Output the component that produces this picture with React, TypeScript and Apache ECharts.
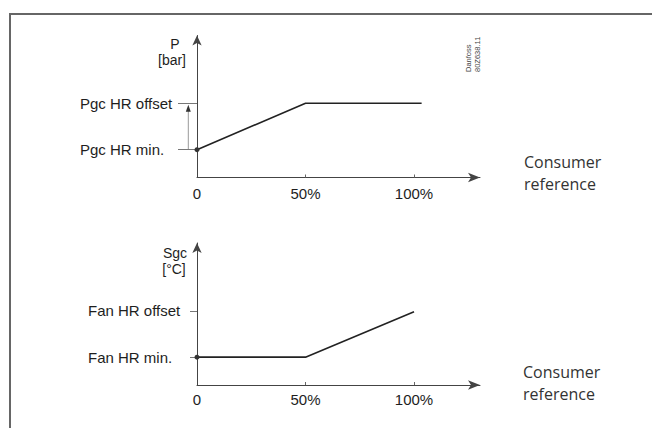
import React, { useEffect, useRef } from "react";
import * as echarts from "echarts";

// ---- data ----
const xTickValues = [0, 50, 100];
const xTickLabels = ["0", "50%", "100%"];
const levelValues = [1, 2];
const pressureLevelLabels = ["Pgc HR min.", "Pgc HR offset"];
const fanLevelLabels = ["Fan HR min.", "Fan HR offset"];
const pressureX = [0, 50, 103.5];
const pressureY = [1, 2, 2];
const fanX = [0, 50, 100];
const fanY = [1, 1, 1.98];

const X_MAX = 130.4;
const Y_MIN = 0.4;
const Y_MAX = 3.46;
const FONT = "Liberation Sans, Arial, Helvetica, sans-serif";

function makeXAxis(gridIndex: number, margin: number) {
  return {
    type: "value",
    gridIndex,
    min: 0,
    max: X_MAX,
    axisLine: {
      show: true,
      onZero: false,
      symbol: ["none", "arrow"],
      symbolSize: [7, 12],
      lineStyle: { color: "#444", width: 1 },
    },
    axisTick: {
      show: true,
      inside: true,
      length: 3,
      customValues: [50, 100],
      lineStyle: { color: "#666", width: 1 },
    },
    axisLabel: {
      customValues: xTickValues,
      formatter: (v: number) => {
        const i = xTickValues.indexOf(v);
        return i >= 0 ? xTickLabels[i] : "";
      },
      margin,
      fontSize: 15,
      color: "#1e1e1e",
      fontFamily: FONT,
    },
    splitLine: { show: false },
  };
}

function makeYAxis(gridIndex: number, labels: string[], tickLen: number, margin: number) {
  return {
    type: "value",
    gridIndex,
    min: Y_MIN,
    max: Y_MAX,
    axisLine: {
      show: true,
      onZero: false,
      symbol: ["none", "arrow"],
      symbolSize: [7, 10],
      lineStyle: { color: "#444", width: 1 },
    },
    axisTick: {
      show: true,
      length: tickLen,
      customValues: levelValues,
      lineStyle: { color: "#777", width: 1 },
    },
    axisLabel: {
      customValues: levelValues,
      formatter: (v: number) => {
        const i = levelValues.indexOf(v);
        return i >= 0 ? labels[i] : "";
      },
      align: "left",
      margin,
      fontSize: 15,
      color: "#1e1e1e",
      fontFamily: FONT,
    },
    splitLine: { show: false },
  };
}

function makeSeries(idx: number, xs: number[], ys: number[]) {
  return {
    type: "line",
    xAxisIndex: idx,
    yAxisIndex: idx,
    symbol: "none",
    clip: false,
    showSymbol: true,
    lineStyle: { color: "#222", width: 1.6 },
    itemStyle: { color: "#333" },
    data: xs.map((x, i) =>
      i === 0
        ? { value: [x, ys[i]], symbol: "circle", symbolSize: 5 }
        : { value: [x, ys[i]] }
    ),
  };
}

export default function App() {
  const ref = useRef<HTMLDivElement>(null);
  useEffect(() => {
    if (!ref.current) return;
    const chart = echarts.init(ref.current, undefined, { renderer: "svg" });
    const nameStyle = (text: string) => ({
      text,
      fontFamily: FONT,
      fontSize: 14,
      fill: "#1e1e1e",
      align: "center",
      verticalAlign: "middle",
    });
    chart.setOption({
      animation: false,
      backgroundColor: "#fff",
      grid: [
        { left: 197, top: 35.5, width: 283, height: 142 },
        { left: 197, top: 243, width: 283, height: 142 },
      ],
      xAxis: [makeXAxis(0, 8), makeXAxis(1, 7)],
      yAxis: [
        makeYAxis(0, pressureLevelLabels, 19, 117),
        makeYAxis(1, fanLevelLabels, 7, 109),
      ],
      series: [makeSeries(0, pressureX, pressureY), makeSeries(1, fanX, fanY)],
    });

    // annotation arrow from Pgc HR min. to Pgc HR offset, placed via the scale
    const pMin = chart.convertToPixel({ gridIndex: 0 }, [0, levelValues[0]]) as number[];
    const pOff = chart.convertToPixel({ gridIndex: 0 }, [0, levelValues[1]]) as number[];
    const ax = pMin[0] - 8.7;
    const tipY = pOff[1] + 1.5;

    const consumerStyle = {
      text: "Consumer\nreference",
      fontFamily: "Open Sans, sans-serif",
      fontSize: 16,
      lineHeight: 22,
      fill: "#333",
      align: "left",
      verticalAlign: "top",
    };

    chart.setOption({
      graphic: [
        {
          type: "rect",
          shape: { x: 10, y: 14, width: 700, height: 500 },
          style: { fill: "none", stroke: "#666", lineWidth: 2 },
          silent: true,
        },
        {
          type: "line",
          shape: { x1: ax, y1: pMin[1], x2: ax, y2: tipY + 5 },
          style: { stroke: "#999", lineWidth: 1 },
        },
        {
          type: "polygon",
          shape: { points: [[ax, tipY], [ax - 2.5, tipY + 7], [ax + 2.5, tipY + 7]] },
          style: { fill: "#333" },
        },
        { type: "text", x: 175, y: 44, style: nameStyle("P") },
        { type: "text", x: 172, y: 60, style: nameStyle("[bar]") },
        { type: "text", x: 175, y: 253, style: nameStyle("Sgc") },
        { type: "text", x: 174, y: 269, style: nameStyle("[°C]") },
        { type: "text", x: 524, y: 150.7, style: consumerStyle },
        { type: "text", x: 523, y: 360.7, style: consumerStyle },
        {
          type: "text",
          x: 468,
          y: 72,
          rotation: Math.PI / 2,
          style: { text: "Danfoss", fontFamily: FONT, fontSize: 7.5, fill: "#444", align: "left", verticalAlign: "middle" },
        },
        {
          type: "text",
          x: 477,
          y: 72,
          rotation: Math.PI / 2,
          style: { text: "80Z638.11", fontFamily: FONT, fontSize: 7.5, fill: "#444", align: "left", verticalAlign: "middle" },
        },
      ],
    });
    return () => chart.dispose();
  }, []);
  return (
    <div
      ref={ref}
      style={{ position: "fixed", left: 0, top: 0, width: 652, height: 428, background: "#fff" }}
    />
  );
}
